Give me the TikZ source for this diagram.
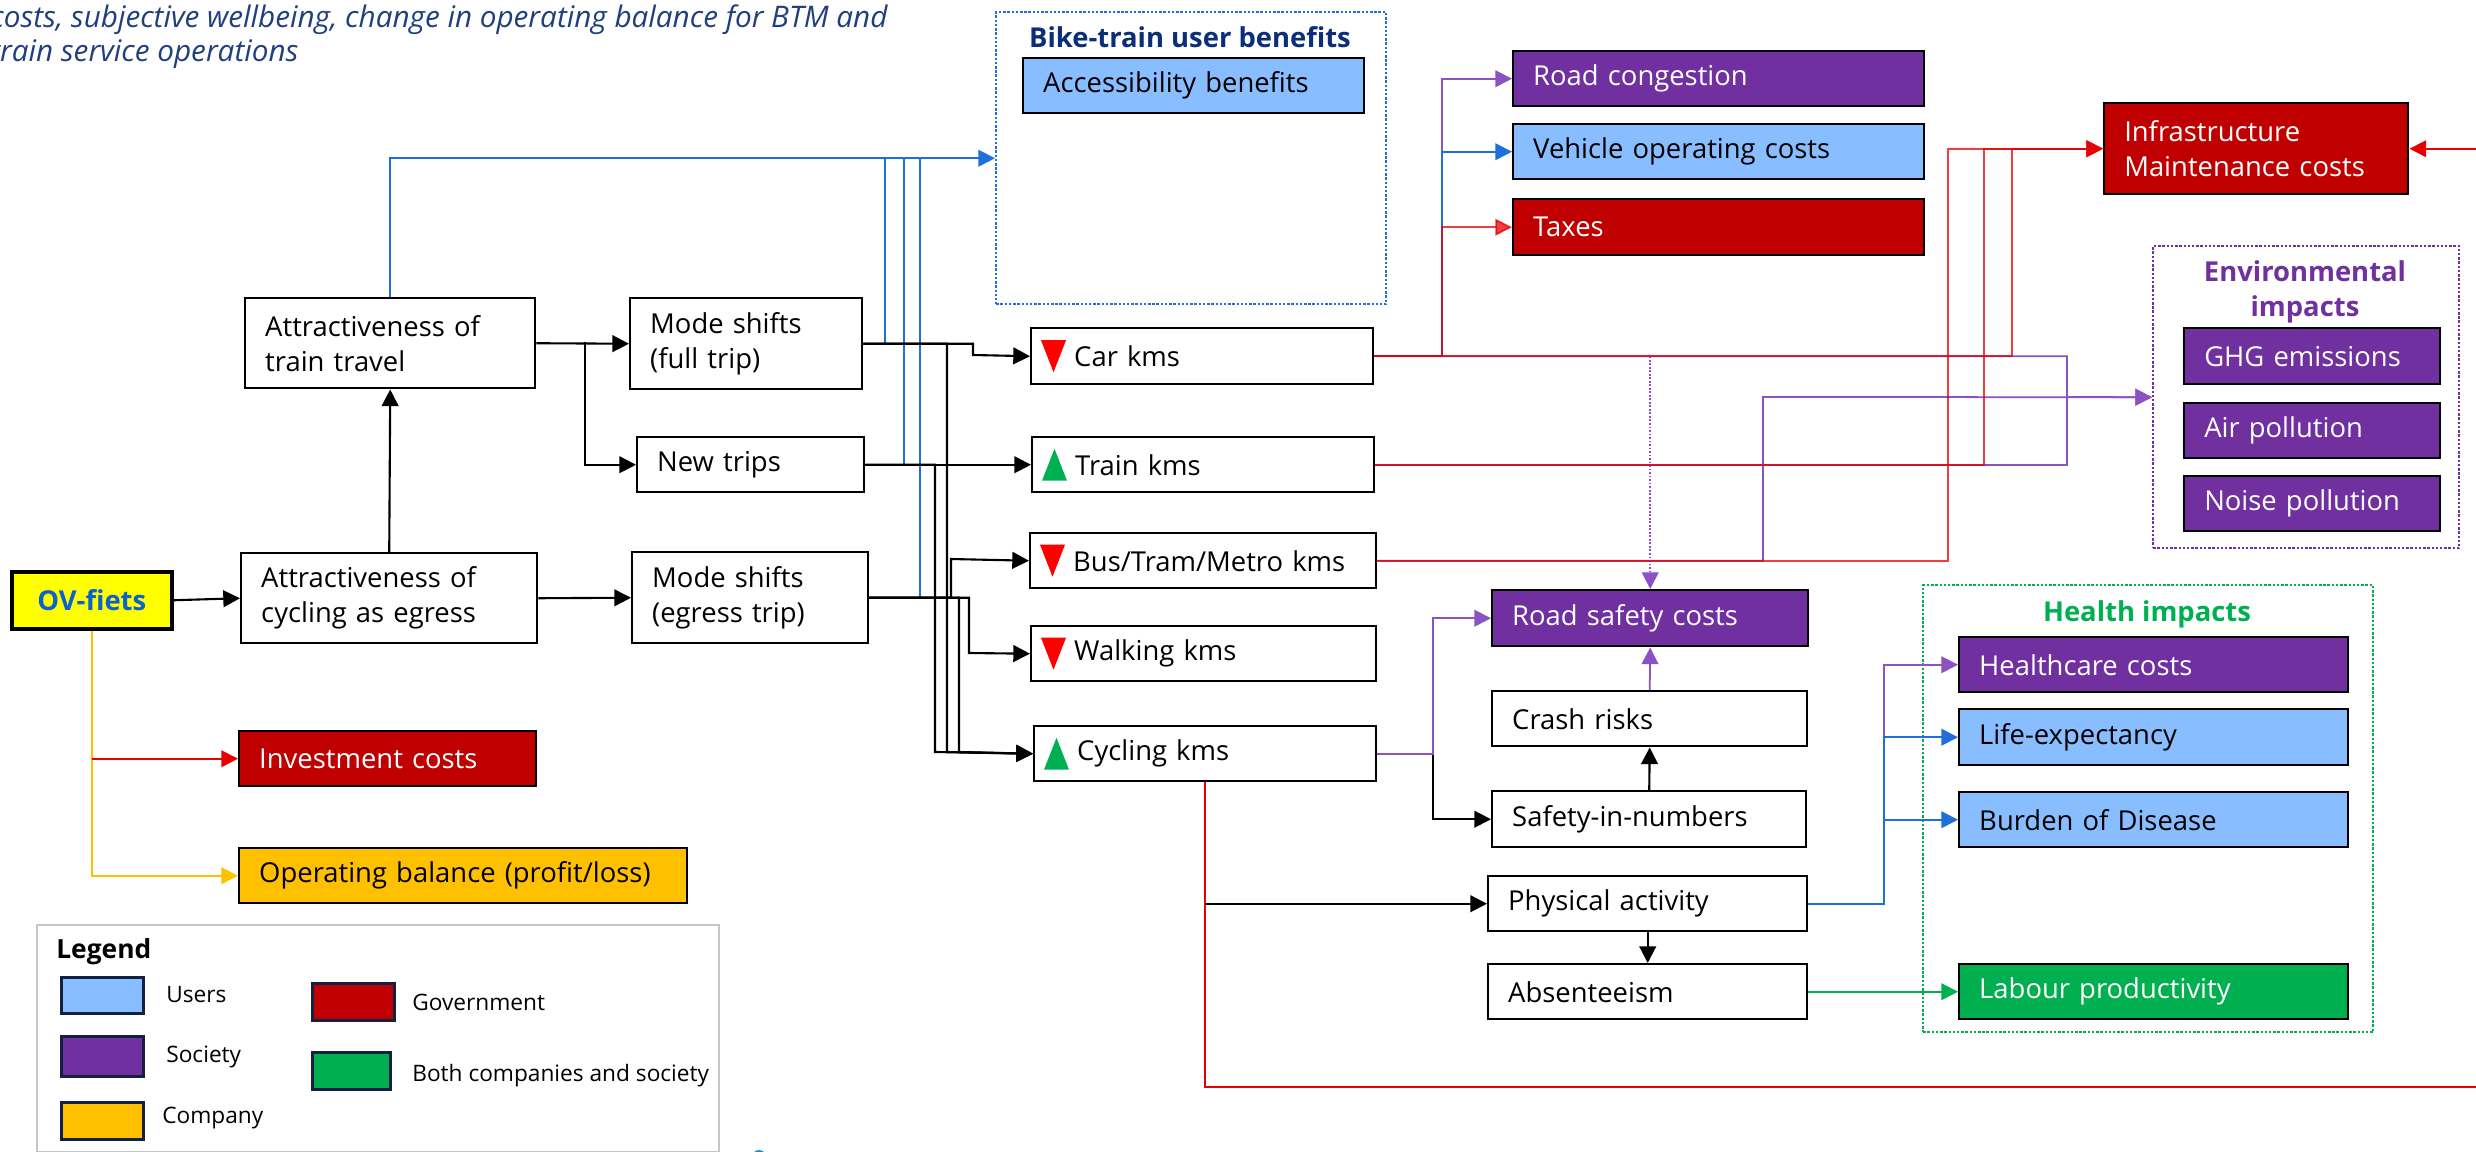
\documentclass[tikz,border=0pt]{standalone}
\usepackage{fontspec}
\setmainfont{Open Sans}
\usepackage{xcolor}
\definecolor{society}{HTML}{7030A0}
\definecolor{users}{HTML}{88BDFF}
\definecolor{govt}{HTML}{C00000}
\definecolor{company}{HTML}{FFC000}
\definecolor{both}{HTML}{00B050}
\definecolor{ovyellow}{HTML}{FFFF00}
\definecolor{ovblue}{HTML}{0A62D0}
\definecolor{navy}{HTML}{0B2E7A}
\definecolor{headblue}{HTML}{1F3F7F}
\definecolor{lnblue}{HTML}{1F6FDB}
\definecolor{lnred}{HTML}{E80000}
\definecolor{lnpurple}{HTML}{8A52C2}
\definecolor{mkred}{HTML}{FF0000}
\definecolor{swatchedge}{HTML}{14203F}
\definecolor{dotblue}{HTML}{1E8FD0}
\usetikzlibrary{arrows.meta}
\usetikzlibrary{calc}

\tikzset{
	box/.style={draw=black, line width=1.4pt, anchor=north west, align=left,
		inner xsep=0.4cm, inner ysep=0pt, font=\fontsize{15.6}{20}\selectfont},
	sz/.code 2 args={\pgfmathsetmacro\boxw{#1*0.02}\pgfmathsetmacro\boxh{#2*0.02}%
		\pgfmathsetmacro\boxtw{(#1-40)*0.02}%
		\tikzset{minimum width=\boxw cm, minimum height=\boxh cm, text width=\boxtw cm}},
	kms/.style={box, execute at begin node={\hspace*{0.46cm}}},
	grp/.style={densely dotted, line width=1.4pt, anchor=north west, inner sep=0pt},
	grptitle/.style={font=\bfseries\fontsize{15.6}{20}\selectfont, inner sep=0pt, align=center},
	swatch/.style={draw=swatchedge, line width=1.8pt, anchor=north west, inner sep=0pt},
	lgtext/.style={anchor=west, inner sep=0pt, font=\fontsize{12.9}{15}\selectfont},
	cn/.style={line width=1.2pt, black},
	cnb/.style={line width=1pt, lnblue},
	cnr/.style={line width=1pt, lnred},
	cnp/.style={line width=1pt, lnpurple},
	cng/.style={line width=1pt, both},
	cno/.style={line width=1pt, company}
}

% red / green markers in front of the kms boxes
\newcommand{\dnmark}[1]{\fill[mkred] ($(#1.west)+(11,-16)$) -- ++(25,0) -- ++(-12.5,32) -- cycle;}
\newcommand{\upmark}[1]{\fill[both] ($(#1.west)+(11,16)$) -- ++(25,0) -- ++(-12.5,-32) -- cycle;}

\begin{document}
\begin{tikzpicture}[x=0.02cm, y=-0.02cm, >={Triangle[length=9.5pt,width=9.5pt]}]
	\useasboundingbox (0,0) rectangle (2476,1152);

	%heading (runs off the left edge)
	\node[anchor=north west, inner sep=0pt, align=left, text=headblue,
		font=\itshape\fontsize{16.9}{19.5}\selectfont] (heading) at (-10,4)
		{costs, subjective wellbeing, change in operating balance for BTM and\\train service operations};

	%dotted group frames
	\node[grp, draw=lnblue, sz={390}{292}] (bikegrp) at (995,11) {};
	\node[grp, draw=society, sz={306}{302}] (envgrp) at (2152,245) {};
	\node[grp, draw=both, sz={450}{447}] (healthgrp) at (1922,584) {};
	\node[grptitle, text=navy] (biketitle) at (1190,37) {Bike-train user benefits};
	\node[grptitle, text=society] (envtitle) at (2305,292) {Environmental\\impacts};
	\node[grptitle, text=both] (healthtitle) at (2147,614) {Health impacts};

	%left column
	\node[box, fill=ovyellow, line width=2pt, sz={160}{57}, align=center, text=ovblue,
		font=\bfseries\fontsize{15.6}{20}\selectfont] (ovfiets) at (10,570) {OV-fiets};
	\node[box, sz={290}{90}] (attrtrain) at (244,297) {Attractiveness of\\train travel};
	\node[box, sz={296}{90}] (attrcyc) at (240,552) {Attractiveness of\\cycling as egress};
	\node[box, sz={232}{91}] (msfull) at (629,297) {Mode shifts\\(full trip)};
	\node[box, sz={227}{55}] (newtrips) at (636,436) {New trips};
	\node[box, sz={236}{91}] (msegress) at (631,551) {Mode shifts\\(egress trip)};
	\node[box, fill=govt, text=white, sz={297}{55}] (invest) at (238,730) {Investment costs};
	\node[box, fill=company, sz={448}{55}] (opbal) at (238,847) {Operating balance (profit/loss)};

	%kilometres per mode
	\node[kms, sz={342}{56}] (car) at (1030,327) {Car kms};
	\node[kms, sz={342}{55}] (train) at (1031,436) {Train kms};
	\node[kms, sz={346}{55}] (bus) at (1029,532) {Bus/Tram/Metro kms};
	\node[kms, sz={345}{55}] (walk) at (1030,625) {Walking kms};
	\node[kms, sz={342}{55}] (cyc) at (1033,725) {Cycling kms};
	\dnmark{car}
	\upmark{train}
	\dnmark{bus}
	\dnmark{walk}
	\upmark{cyc}

	%effects
	\node[box, fill=users, sz={341}{55}] (access) at (1022,57) {Accessibility benefits};
	\node[box, fill=society, text=white, sz={411}{55}] (roadcong) at (1512,50) {Road congestion};
	\node[box, fill=users, sz={411}{55}] (voc) at (1512,123) {Vehicle operating costs};
	\node[box, fill=govt, text=white, sz={411}{56}] (taxes) at (1512,198) {Taxes};
	\node[box, fill=govt, text=white, sz={304}{91}] (infra) at (2103,102) {Infrastructure\\Maintenance costs};
	\node[box, fill=society, text=white, sz={256}{56}] (ghg) at (2183,327) {GHG emissions};
	\node[box, fill=society, text=white, sz={256}{55}] (air) at (2183,402) {Air pollution};
	\node[box, fill=society, text=white, sz={256}{55}] (noise) at (2183,475) {Noise pollution};
	\node[box, fill=society, text=white, sz={316}{56}] (roadsafety) at (1491,589) {Road safety costs};
	\node[box, sz={315}{55}] (crash) at (1491,690) {Crash risks};
	\node[box, sz={314}{56}] (sin) at (1491,790) {Safety-in-numbers};
	\node[box, sz={319}{55}] (physact) at (1487,875) {Physical activity};
	\node[box, sz={319}{55}] (absent) at (1487,963) {Absenteeism};
	\node[box, fill=society, text=white, sz={389}{55}] (healthcare) at (1958,636) {Healthcare costs};
	\node[box, fill=users, sz={389}{56}] (lifeexp) at (1958,708) {Life-expectancy};
	\node[box, fill=users, sz={389}{55}] (burden) at (1958,791) {Burden of Disease};
	\node[box, fill=both, text=white, sz={389}{55}] (labour) at (1958,963) {Labour productivity};

	%legend
	\node[draw=gray!45, line width=1.4pt, anchor=north west, inner sep=0pt, sz={682}{227}] (legend) at (36,924) {};
	\node[anchor=west, inner sep=0pt, font=\bfseries\fontsize{15}{18}\selectfont] (lgtitle) at (56,952) {Legend};
	\node[swatch, fill=users, sz={82}{36}] (swusers) at (60,976) {};
	\node[swatch, fill=society, sz={82}{40}] (swsociety) at (60,1035) {};
	\node[swatch, fill=company, sz={82}{37}] (swcompany) at (60,1101) {};
	\node[swatch, fill=govt, sz={82}{37}] (swgovt) at (311,982) {};
	\node[swatch, fill=both, sz={78}{37}] (swboth) at (311,1051) {};
	\node[lgtext] (lgusers) at (166,995) {Users};
	\node[lgtext] (lgsociety) at (166,1057) {Society};
	\node[lgtext] (lgcompany) at (162,1118) {Company};
	\node[lgtext] (lggovt) at (412,1002) {Government};
	\node[lgtext] (lgboth) at (412,1076) {Both companies and society};
	\fill[dotblue] (759,1157) circle (7);

	%blue links to the user benefits
	\draw[cnb, ->] (attrtrain.north) |- (bikegrp.west);
	\draw[cnb] (msfull.east) -| (885,157);
	\draw[cnb] (newtrips.east) -| (904,157);
	\draw[cnb] (msegress.east) -| (920,157);

	%black links on the left
	\draw[cn, ->] (ovfiets.east) -- (attrcyc.west);
	\draw[cn, ->] (attrcyc.north) -- (attrtrain.south);
	\draw[cn, ->] (attrtrain.east) -- (msfull.west);
	\draw[cn, ->] (585,342) |- (newtrips.west);
	\draw[cn, ->] (attrcyc.east) -- (msegress.west);
	\draw[cn, ->] (msfull.east) -| (973,355) -- (car.west);
	\draw[cn, ->] (msfull.east) -| (947,752) -- (cyc.west);
	\draw[cn, ->] (newtrips.east) -- (train.west);
	\draw[cn, ->] (newtrips.east) -| (935,752) -- (cyc.west);
	\draw[cn, ->] (msegress.east) -| (969,653) -- (walk.west);
	\draw[cn, ->] (msegress.east) -| (959,752) -- (cyc.west);
	\draw[cn, ->] (msegress.east) -| (951,559) -- (bus.west);

	%OV-fiets costs
	\draw[cno, ->] (ovfiets.south) |- (opbal.west);
	\draw[cnr, ->] (ovfiets.south |- invest.west) -- (invest.west);

	%society links
	\draw[cnp, ->] (car.east) -| ($(roadcong.west)+(-70,0)$) -- (roadcong.west);
	\draw[cnp, ->] (car.east) -| (2067,397) -- (envgrp.west);
	\draw[cnp] (train.east) -| (2067,397);
	\draw[cnp, ->] (bus.east) -| (1763,397) -- (envgrp.west);
	\draw[cnp, densely dotted, ->] (car.east -| roadsafety.north) -- (roadsafety.north);

	%user and government links
	\draw[cnb, ->] (car.east) -| ($(voc.west)+(-70,0)$) -- (voc.west);
	\draw[cnr, opacity=0.75, ->] (car.east) -| ($(taxes.west)+(-70,0)$) -- (taxes.west);
	\draw[cnr, opacity=0.75, ->] (car.east) -| ($(infra.west)+(-91,0)$) -- (infra.west);
	\draw[cnr, opacity=0.75, ->] (train.east) -| ($(infra.west)+(-119,0)$) -- (infra.west);
	\draw[cnr, opacity=0.75, ->] (bus.east) -| ($(infra.west)+(-155,0)$) -- (infra.west);
	\draw[cnr, ->] (cyc.south) |- (2500,1087) |- (infra.east);

	%cycling effects
	\draw[cn, ->] (cyc.east) -| ($(sin.west)+(-58,0)$) -- (sin.west);
	\draw[cnp, ->] (cyc.east) -| ($(roadsafety.west)+(-58,0)$) -- (roadsafety.west);
	\draw[cn, ->] (sin.north) -- (crash.south);
	\draw[cnp, ->] (crash.north) -- (roadsafety.south);
	\draw[cn, ->] (cyc.south |- physact.west) -- (physact.west);
	\draw[cn, ->] (physact.south) -- (absent.north);

	%health links
	\draw[cnp, ->] (physact.east) -| ($(healthcare.west)+(-74,0)$) -- (healthcare.west);
	\draw[cnb, ->] (physact.east) -| ($(lifeexp.west)+(-74,0)$) -- (lifeexp.west);
	\draw[cnb, ->] (physact.east) -| ($(burden.west)+(-74,0)$) -- (burden.west);
	\draw[cng, ->] (absent.east) -- (labour.west);
\end{tikzpicture}
\end{document}
